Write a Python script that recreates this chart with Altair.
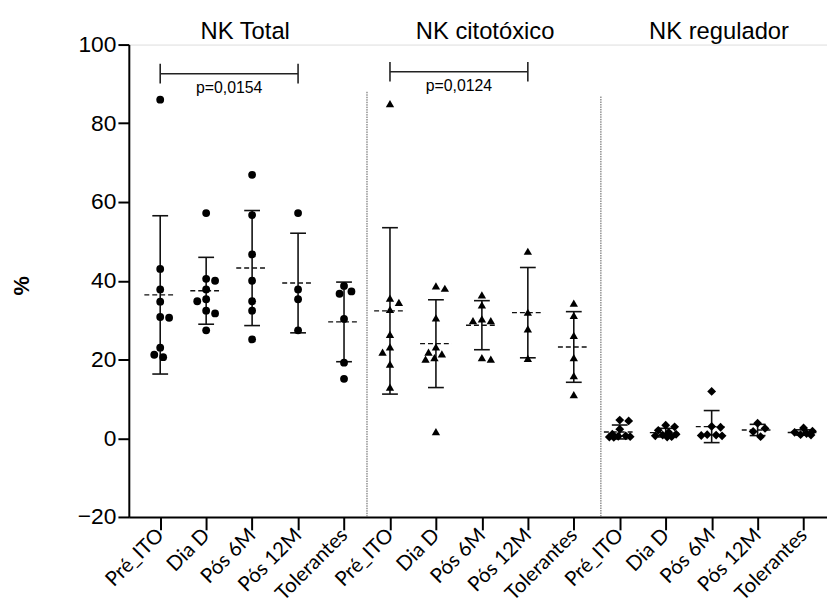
import altair as alt
import pandas as pd

# ---------------- data ----------------
groups = ["NK Total", "NK citotóxico", "NK regulador"]
timepoints = ["Pré_ITO", "Dia D", "Pós 6M", "Pós 12M", "Tolerantes"]

nk_total = [
    [86.0, 43.0, 37.8, 34.7, 30.8, 30.6, 23.0, 20.6, 21.2],
    [57.2, 40.5, 40.0, 37.8, 35.3, 34.8, 32.4, 31.7, 27.4],
    [66.9, 56.7, 46.7, 40.0, 34.8, 32.4, 25.1],
    [57.2, 37.8, 35.3, 27.4],
    [38.7, 37.3, 36.7, 30.3, 19.2, 15.1],
]
nk_cito = [
    [85.0, 34.5, 35.6, 32.7, 26.4, 23.2, 21.9, 18.8, 13.0],
    [38.7, 38.1, 30.6, 23.2, 21.9, 21.4, 20.1, 20.5, 1.7],
    [36.4, 33.9, 29.9, 29.9, 30.3, 20.1, 20.5],
    [47.5, 32.0, 27.8, 20.3],
    [34.3, 31.2, 26.1, 20.5, 15.9, 11.1],
]
nk_reg = [
    [4.6, 4.4, 2.3, 1.0, 0.6, 0.4, 0.3, 0.2, 0.5],
    [3.3, 2.9, 2.0, 1.5, 1.0, 0.8, 0.6, 0.4, 0.3],
    [11.9, 3.0, 2.8, 0.9, 0.8, 0.7, 0.6],
    [3.8, 2.5, 1.7, 0.4],
    [2.6, 1.8, 1.5, 1.2, 0.9, 0.8],
]

brackets = [
    {"a": 0, "b": 3, "level": 92.6, "label": "p=0,0154"},
    {"a": 5, "b": 8, "level": 93.1, "label": "p=0,0124"},
]
group_title_pos = [1.85, 7.07, 12.16]
separators = [{"x": 4.5, "top": 88.0}, {"x": 9.59, "top": 86.8}]

# ---------------- layout helpers ----------------
W, H = 705, 477
XDOM = [-0.683, 14.51]
YDOM = [-20, 100]
PPX = W / (XDOM[1] - XDOM[0])
PPY = H / (YDOM[1] - YDOM[0])


def swarm(vals, D=9.0, step=1.5, maxoff=11.0):
    """Simple symmetric dot spreading (like a scatter dot plot)."""
    order = sorted(range(len(vals)), key=lambda i: -vals[i])
    placed = []
    offs = [0.0] * len(vals)
    nl = nr = 0
    nmax = int(maxoff / step)
    for i in order:
        y = vals[i] * PPY
        cands = [0.0]
        for k in range(1, nmax + 1):
            if nr <= nl:
                cands += [k * step, -k * step]
            else:
                cands += [-k * step, k * step]
        best, bestd = None, -1.0
        for c in cands:
            md = min([((c - px) ** 2 + (y - py) ** 2) ** 0.5 for px, py in placed] or [1e9])
            if md >= D:
                best = c
                break
            if md > bestd:
                best, bestd = c, md
        placed.append((best, y))
        if best > 0:
            nr += 1
        elif best < 0:
            nl += 1
        offs[i] = best / PPX
    return offs


rows = []
for g, series in enumerate([nk_total, nk_cito, nk_reg]):
    for t, vals in enumerate(series):
        idx = g * 5 + t
        offs = swarm(vals)
        for v, o in zip(vals, offs):
            rows.append({"grp": groups[g], "idx": idx, "xj": idx + o, "value": v})
df = pd.DataFrame(rows)

labels_all = timepoints * 3
label_expr = "[" + ",".join("'%s'" % s for s in labels_all) + "][datum.value]"

xscale = alt.Scale(domain=XDOM, nice=False, zero=False)
yscale = alt.Scale(domain=YDOM, nice=False, zero=False)

xaxis = alt.Axis(
    values=list(range(15)), labelExpr=label_expr, labelAngle=-45,
    labelAlign="right", labelBaseline="middle", labelFont="Lato",
    labelFontSize=20.5, labelColor="black", labelOverlap=False, labelFlush=False,
    labelPadding=2, tickSize=13, tickWidth=2, tickColor="black",
    domainColor="black", domainWidth=2, grid=False, title=None,
)
yaxis = alt.Axis(
    values=[-20, 0, 20, 40, 60, 80, 100], labelFont="Liberation Sans",
    labelFontSize=23, labelColor="black", labelPadding=2, tickSize=11,
    tickWidth=2, tickColor="black", domainColor="black", domainWidth=2,
    grid=False, title="%", titleFont="Liberation Sans", titleFontSize=22,
    titleFontWeight="bold", titleColor="black", titleX=-108, titleY=243,
    titleBaseline="middle", titleAngle=270,
)

points = alt.Chart(df).mark_point(filled=True, color="black", opacity=1, strokeWidth=0).encode(
    x=alt.X("xj:Q", scale=xscale, axis=xaxis),
    y=alt.Y("value:Q", scale=yscale, axis=yaxis),
    shape=alt.Shape("grp:N", scale=alt.Scale(domain=groups, range=["circle", "triangle-up", "diamond"]), legend=None),
    size=alt.Size("grp:N", scale=alt.Scale(domain=groups, range=[62, 80, 80]), legend=None),
)

stats = alt.Chart(df).transform_aggregate(
    mean="mean(value)", sd="stdev(value)", groupby=["idx"]
).transform_calculate(
    lo="datum.mean - datum.sd", hi="datum.mean + datum.sd",
    xl="datum.idx - 0.172", xr="datum.idx + 0.172",
    ml="datum.idx - 0.345", mr="datum.idx + 0.345",
)

sd_rule = stats.mark_rule(color="#111", strokeWidth=1.6).encode(
    x=alt.X("idx:Q", scale=xscale), y=alt.Y("lo:Q", scale=yscale), y2="hi:Q"
)
caps = stats.transform_fold(["lo", "hi"], as_=["k", "v"]).mark_rule(color="#111", strokeWidth=1.6).encode(
    x=alt.X("xl:Q", scale=xscale), x2="xr:Q", y=alt.Y("v:Q", scale=yscale)
)
mean_rule = stats.mark_rule(color="#111", strokeWidth=1.4, strokeDash=[5, 3]).encode(
    x=alt.X("ml:Q", scale=xscale), x2="mr:Q", y=alt.Y("mean:Q", scale=yscale)
)

sep = alt.Chart(pd.DataFrame(separators)).transform_calculate(bot="-20").mark_rule(
    color="#555", strokeWidth=1, strokeDash=[1.5, 1]
).encode(x=alt.X("x:Q", scale=xscale), y=alt.Y("top:Q", scale=yscale), y2="bot:Q")

bdf = pd.DataFrame(brackets)
bbase = alt.Chart(bdf).transform_calculate(
    up="datum.level + 2.5", dn="datum.level - 2.5",
    mid="(datum.a + datum.b) / 2", ty="datum.level - 3.6",
)
bline = bbase.mark_rule(color="#222", strokeWidth=1.6).encode(
    x=alt.X("a:Q", scale=xscale), x2="b:Q", y=alt.Y("level:Q", scale=yscale)
)
bends = bbase.transform_fold(["a", "b"], as_=["k", "xe"]).mark_rule(color="#222", strokeWidth=1.6).encode(
    x=alt.X("xe:Q", scale=xscale), y=alt.Y("up:Q", scale=yscale), y2="dn:Q"
)
btext = bbase.mark_text(font="Liberation Sans", fontSize=16, color="black", baseline="middle").encode(
    x=alt.X("mid:Q", scale=xscale), y=alt.Y("ty:Q", scale=yscale), text="label:N"
)

tdf = pd.DataFrame({"name": groups, "x": group_title_pos, "y": [101.5, 101.5, 101.3]})
titles = alt.Chart(tdf).mark_text(font="Liberation Sans", fontSize=24, color="black", baseline="alphabetic").encode(
    x=alt.X("x:Q", scale=xscale), y=alt.Y("y:Q", scale=yscale), text="name:N"
)

chart = alt.layer(sep, sd_rule, caps, mean_rule, points, bline, bends, btext, titles).properties(
    width=W, height=H,
    autosize=alt.AutoSizeParams(type="none"),
    padding={"left": 122, "top": 34, "right": 0, "bottom": 89},
).configure_view(stroke=None).configure(background="white")

chart.save("out.html", embed_options={"renderer": "svg", "actions": False})
